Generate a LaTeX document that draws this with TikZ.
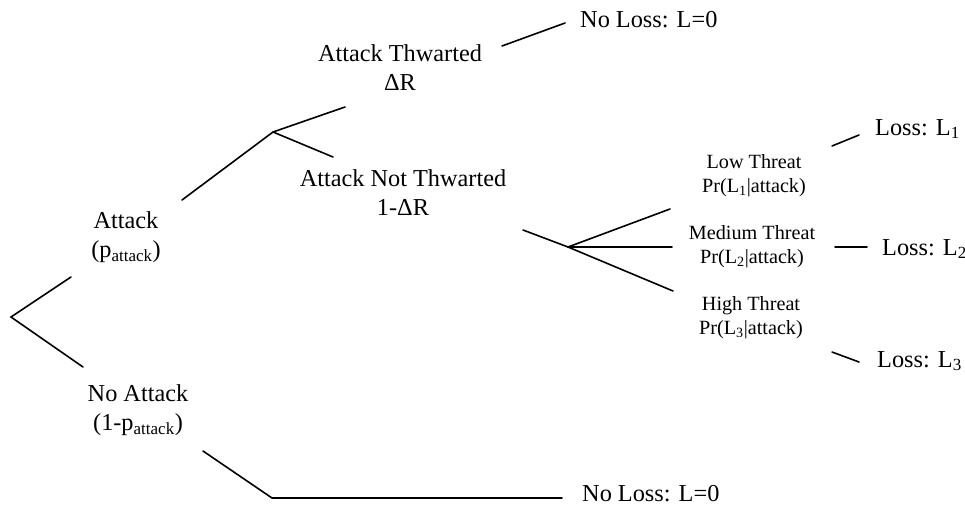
\documentclass[tikz,border=0pt]{standalone}
\usepackage{fontspec}
\setmainfont{Liberation Serif}
\begin{document}
\begin{tikzpicture}[x=1pt,y=-1pt,
  big/.style={font=\fontsize{24.3}{29}\selectfont, align=center, inner sep=0pt},
  small/.style={font=\fontsize{20.2}{24}\selectfont, align=center, inner sep=0pt},
  branch/.style={line width=1.6pt, line cap=round}]
\useasboundingbox (0,0) rectangle (965,507);
% text nodes
\node[big] (attack) at (126,237) {Attack\\(p\textsubscript{attack})};
\node[big] (noattack) at (138,410) {No Attack\\(1-p\textsubscript{attack})};
\node[big] (thw) at (400,68) {Attack Thwarted\\ΔR};
\node[big] (nthw) at (403,193) {Attack Not Thwarted\\1-ΔR};
\node[big, anchor=base west] (noloss1) at (580,27) {No Loss: L=0};
\node[big, anchor=base west] (noloss2) at (582,501) {No Loss: L=0};
\node[small] (low) at (754,176) {Low Threat\\Pr(L\textsubscript{1}|attack)};
\node[small] (med) at (752,247) {Medium Threat\\Pr(L\textsubscript{2}|attack)};
\node[small] (high) at (751,318) {High Threat\\Pr(L\textsubscript{3}|attack)};
\node[big, anchor=base west] (loss1) at (875,135) {Loss: L\textsubscript{1}};
\node[big, anchor=base west] (loss2) at (882,255) {Loss: L\textsubscript{2}};
\node[big, anchor=base west] (loss3) at (877,367) {Loss: L\textsubscript{3}};
% connector points
\coordinate (root) at (11,317);
\coordinate (rootU) at (71,277);
\coordinate (rootL) at (83,367);
\coordinate (attOut) at (182,200);
\coordinate (split1) at (273,132);
\coordinate (thwIn) at (345,107);
\coordinate (nthwIn) at (333,157);
\coordinate (thwOut) at (502,46);
\coordinate (nl1In) at (565,23);
\coordinate (nthwOut) at (523,230);
\coordinate (split2) at (568,247);
\coordinate (lowIn) at (670,209);
\coordinate (medIn) at (672,247);
\coordinate (highIn) at (673,291);
\coordinate (lowOut) at (832,146);
\coordinate (l1In) at (859,135);
\coordinate (medOut) at (835,247);
\coordinate (l2In) at (867,247);
\coordinate (highOut) at (832,352);
\coordinate (l3In) at (859,362);
\coordinate (naOut) at (203,451);
\coordinate (naBend) at (272,498);
\coordinate (nl2In) at (562,498);
% connectors
\draw[branch] (rootU) -- (root) -- (rootL);
\draw[branch] (attOut) -- (split1) -- (thwIn);
\draw[branch] (split1) -- (nthwIn);
\draw[branch] (thwOut) -- (nl1In);
\draw[branch] (nthwOut) -- (split2) -- (lowIn);
\draw[branch] (split2) -- (medIn);
\draw[branch] (split2) -- (highIn);
\draw[branch] (lowOut) -- (l1In);
\draw[branch] (medOut) -- (l2In);
\draw[branch] (highOut) -- (l3In);
\draw[branch] (naOut) -- (naBend) -- (nl2In);
\end{tikzpicture}
\end{document}
